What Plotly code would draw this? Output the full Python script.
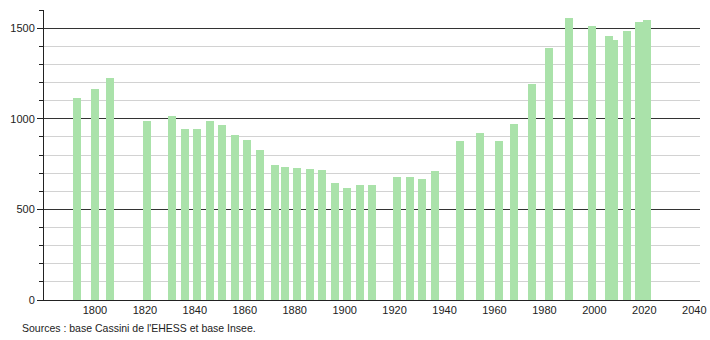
import plotly.graph_objects as go

years = [1793, 1800, 1806, 1821, 1831, 1836, 1841, 1846, 1851, 1856, 1861, 1866,
         1872, 1876, 1881, 1886, 1891, 1896, 1901, 1906, 1911, 1921, 1926, 1931,
         1936, 1946, 1954, 1962, 1968, 1975, 1982, 1990, 1999, 2006, 2008, 2013,
         2018, 2021]
population = [1115, 1164, 1225, 987, 1015, 943, 943, 987, 965, 910, 882, 828,
              744, 734, 727, 721, 716, 644, 616, 633, 633, 677, 677, 666,
              712, 875, 921, 875, 971, 1192, 1391, 1556, 1509, 1456, 1437, 1486,
              1534, 1547]
x_ticks = [1800, 1820, 1840, 1860, 1880, 1900, 1920, 1940, 1960, 1980, 2000, 2020, 2040]
source_text = "Sources : base Cassini de l'EHESS et base Insee."

fig = go.Figure()
fig.add_trace(go.Bar(
    x=years, y=population, width=3.2,
    marker=dict(color="rgb(170,226,170)", line=dict(width=0)),
    hoverinfo="x+y",
))

font = dict(family="Liberation Sans, Arial, sans-serif", size=11, color="#222")
fig.update_layout(
    width=710, height=340,
    margin=dict(l=44, r=10, t=10, b=40, autoexpand=False),
    paper_bgcolor="white", plot_bgcolor="white",
    showlegend=False, bargap=0,
    font=font,
    xaxis=dict(
        range=[1779.6, 2042.3], tickmode="array", tickvals=x_ticks,
        ticktext=[str(t) for t in x_ticks], automargin=False,
        showgrid=False, zeroline=False, showline=True, linecolor="#222", linewidth=1,
        ticks="", tickfont=font,
    ),
    yaxis=dict(
        range=[0, 1600], tick0=0, dtick=500, automargin=False,
        showgrid=True, gridcolor="#333", gridwidth=1,
        zeroline=False, showline=True, linecolor="#222", linewidth=1,
        ticks="outside", ticklen=6, tickcolor="#222", tickfont=font,
        minor=dict(dtick=100, showgrid=True, gridcolor="#d2d2d2", gridwidth=1,
                   ticks="outside", ticklen=4, tickcolor="#222"),
    ),
    annotations=[dict(
        text=source_text, xref="paper", yref="paper",
        x=-0.0366, y=-0.0966, xanchor="left", yanchor="middle",
        showarrow=False, font=dict(family="Liberation Sans, Arial, sans-serif", size=10.5, color="#222"),
    )],
)

fig.write_html("out.html")
